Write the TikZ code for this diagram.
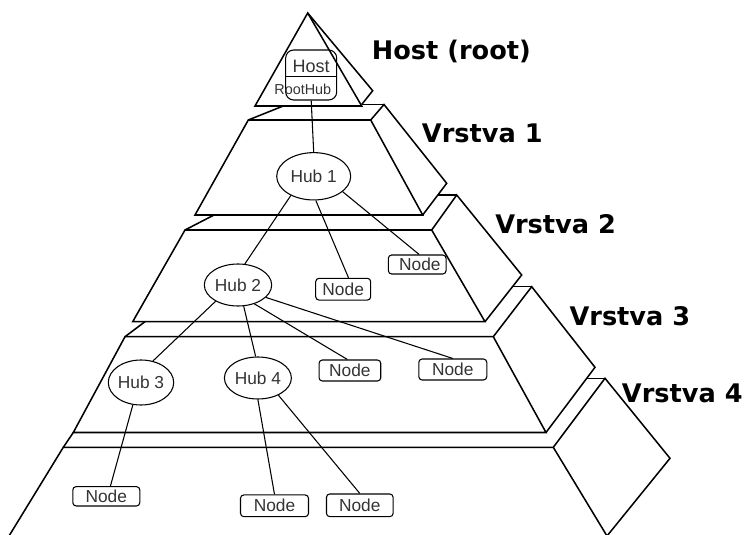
\documentclass[tikz,border=0pt]{standalone}
\usepackage{fontspec}
\setmainfont{Liberation Sans}
\newfontfamily\lblfont{DejaVu Sans}
\usetikzlibrary{shapes.geometric}
\tikzset{
  edge/.style={line width=1.15pt, line join=miter},
  conn/.style={line width=0.8pt},
  hub/.style={ellipse, draw, line width=0.8pt, inner sep=0pt, text=black!80, font=\fontsize{13}{15}\selectfont},
  nbox/.style={rectangle, draw, rounded corners=2.5pt, line width=0.8pt, inner sep=0pt, text=black!80, font=\fontsize{13}{15}\selectfont},
  layerlbl/.style={anchor=west, inner sep=0pt, font=\lblfont\bfseries\fontsize{19.2}{22}\selectfont}
}
\begin{document}
\begin{tikzpicture}[x=0.75pt,y=-0.75pt]
\useasboundingbox (0,0) rectangle (744,535);
% ---- top piece (host)
\draw[edge] (307.7,13) -- (255,106) -- (361.7,106) -- cycle;
\draw[edge] (307.7,13) -- (372.7,90.7) -- (361.7,104.5);
% ---- layer 1
\draw[edge] (248.3,120) -- (370.7,120) -- (422.7,215) -- (195,215) -- cycle;
\draw[edge] (370.7,120) -- (384,104.5) -- (446.7,183.3) -- (422.7,215);
\draw[edge] (361.7,104.5) -- (384,104.5);
\draw[edge] (248.3,120) -- (283.3,106);
% ---- layer 2
\draw[edge] (185,230) -- (431.7,230) -- (485,321.7) -- (132.7,321.7) -- cycle;
\draw[edge] (431.7,230) -- (456.7,195) -- (521.7,275) -- (485,321.7);
\draw[edge] (437.5,195) -- (456.7,195);
\draw[edge] (185,230) -- (214,215);
% ---- layer 3
\draw[edge] (125,336.7) -- (493.3,336.7) -- (546,432.5) -- (73.3,432.5) -- cycle;
\draw[edge] (493.3,336.7) -- (531.7,286.7) -- (595,367.3) -- (546,432.5);
\draw[edge] (512.5,286.7) -- (531.7,286.7);
\draw[edge] (125,336.7) -- (145,321.7);
% ---- layer 4
\draw[edge] (9,536) -- (63.3,447.3) -- (553.3,447.3) -- (607,536);
\draw[edge] (553.3,447.3) -- (605,378.3) -- (670,458.3) -- (607,536);
\draw[edge] (587,378.3) -- (605,378.3);
\draw[edge] (63.3,447.3) -- (73.3,432.5);
% ---- labels
\node[layerlbl] (lh) at (371.7,51.7) {Host (root)};
\node[layerlbl] (l1) at (421.7,133.3) {Vrstva 1};
\node[layerlbl] (l2) at (495,224) {Vrstva 2};
\node[layerlbl] (l3) at (569.3,316) {Vrstva 3};
\node[layerlbl] (l4) at (621.7,393.3) {Vrstva 4};
% ---- host box
\node[nbox, rounded corners=6pt, minimum width=38.25pt, minimum height=37.5pt] (host) at (311.2,75) {};
\draw[conn] ([yshift=-1.2pt]host.west) -- ([yshift=-1.2pt]host.east);
\node[inner sep=0pt, text=black!80, font=\fontsize{13.5}{15}\selectfont] (hosttxt) at (311.2,66) {Host};
\node[inner sep=0pt, text=black!80, font=\fontsize{10.8}{12}\selectfont] (roottxt) at (302.8,89) {RootHub};
% ---- hubs
\node[hub, minimum width=55.5pt, minimum height=35.5pt] (hub1) at (313.7,176.3) {Hub 1};
\node[hub, minimum width=50.5pt, minimum height=31.5pt] (hub2) at (238,285) {Hub 2};
\node[hub, minimum width=48.75pt, minimum height=33.75pt] (hub3) at (141,382.5) {Hub 3};
\node[hub, minimum width=50.25pt, minimum height=31.5pt] (hub4) at (257.9,378) {Hub 4};
% ---- device nodes
\node[nbox, minimum width=41.25pt, minimum height=16.3pt] (na) at (343.2,289.2) {Node};
\node[nbox, minimum width=43.3pt, minimum height=14.25pt] (nb) at (417.2,264.5) {\hspace*{4pt}Node};
\node[nbox, minimum width=46.3pt, minimum height=15.75pt] (nc) at (349.9,370.5) {Node};
\node[nbox, minimum width=51pt, minimum height=15.75pt] (nd) at (452.8,369.5) {Node};
\node[nbox, minimum width=50.25pt, minimum height=14.5pt] (ne) at (106.3,496.3) {Node};
\node[nbox, minimum width=51pt, minimum height=16.3pt] (nf) at (274.5,505.8) {Node};
\node[nbox, minimum width=50pt, minimum height=17pt] (ng) at (359.8,505.3) {Node};
% ---- connectors
\draw[conn] (host.south) -- (hub1.north);
\draw[conn] (hub1.220) -- (hub2.72);
\draw[conn] (hub1.275) -- (na.65);
\draw[conn] (hub1.332) -- (nb.79);
\draw[conn] (hub2.216) -- (hub3.61);
\draw[conn] (hub2.285) -- (hub4.96);
\draw[conn] (hub2.311) -- (nc.103);
\draw[conn] (hub2.336) -- (nd.north);
\draw[conn] (hub3.250) -- (ne.68);
\draw[conn] (hub4.south) -- (nf.north);
\draw[conn] (hub4.320) -- (ng.north);
\end{tikzpicture}
\end{document}
